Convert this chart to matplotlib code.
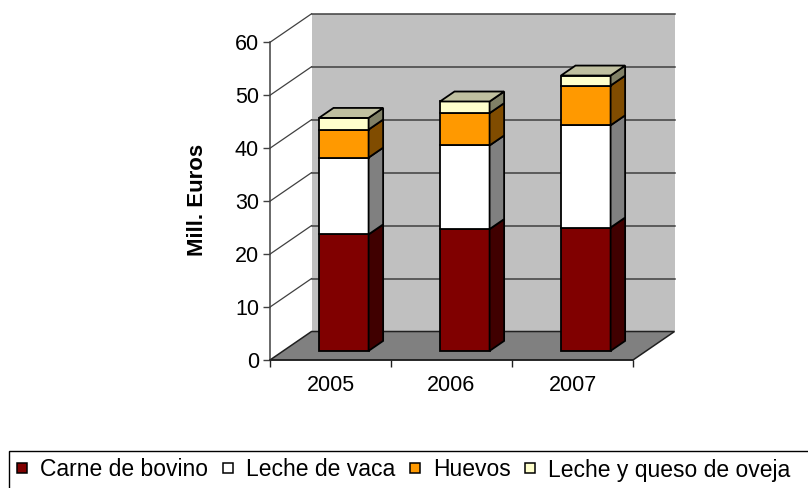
import matplotlib.pyplot as plt
from matplotlib.patches import Polygon, Rectangle
from matplotlib.lines import Line2D
plt.rcParams.update({'font.family': ['Liberation Sans', 'DejaVu Sans']})

# values (Mill. Euros)
years = ['2005', '2006', '2007']
carne_bovino = [22.0, 23.0, 23.3]
leche_vaca = [14.5, 15.8, 19.3]
huevos = [5.3, 6.1, 7.5]
leche_oveja = [2.2, 2.2, 1.9]
series_names = ['Carne de bovino', 'Leche de vaca', 'Huevos', 'Leche y queso de oveja']
yticks = [0, 10, 20, 30, 40, 50, 60]

front_cols = ['#800000', '#FFFFFF', '#FF9900', '#FFFFCC']
side_cols = ['#400000', '#808080', '#804C00', '#808066']
top_col = '#C0C0A0'

# oblique 3d look: depth offset of the back wall in data units
DX, DY = 0.343, 5.38
d0, d1 = 0.32, 0.67   # bar front / back depth as fraction of the floor depth
bw = 0.41
ymax = 60
ncat = len(years)

fig = plt.figure(figsize=(8.08, 4.88), dpi=100)
ax = fig.add_axes([0, 0, 1, 1])
ax.set_xlim(-270 / 121, 538 / 121)
ax.set_ylim(-128 / 5.295, 360 / 5.295)
ax.patch.set_visible(False)

# back wall, side wall grid and floor
ax.add_patch(Rectangle((DX, DY), ncat, ymax, facecolor='#C0C0C0', edgecolor='none', zorder=0))
for v in yticks[1:]:
    ax.plot([DX, ncat + DX], [v + DY, v + DY], color='#404040', lw=1.1, zorder=1)
    ax.plot([0, DX], [v, v + DY], color='#404040', lw=0.9, zorder=1)
ax.add_patch(Polygon([(0, 0), (ncat, 0), (ncat + DX, DY), (DX, DY)], closed=True,
                     facecolor='#808080', edgecolor='#202020', lw=1.1, zorder=2))

# stacked columns
stacks = [carne_bovino, leche_vaca, huevos, leche_oveja]
dx, dy = (d1 - d0) * DX, (d1 - d0) * DY
for i in range(ncat):
    x0 = i + 0.5 - bw / 2 + d0 * DX
    base = d0 * DY
    for k, s in enumerate(stacks):
        h = s[i]
        ax.add_patch(Rectangle((x0, base), bw, h, facecolor=front_cols[k],
                               edgecolor='black', lw=1.3, zorder=5))
        ax.add_patch(Polygon([(x0 + bw, base), (x0 + bw + dx, base + dy),
                              (x0 + bw + dx, base + h + dy), (x0 + bw, base + h)],
                             closed=True, facecolor=side_cols[k], edgecolor='black',
                             lw=1.3, zorder=5))
        base += h
    ax.add_patch(Polygon([(x0, base), (x0 + bw, base), (x0 + bw + dx, base + dy),
                          (x0 + dx, base + dy)], closed=True, facecolor=top_col,
                         edgecolor='black', lw=1.3, zorder=5))

# axes
for sp in ['top', 'right']:
    ax.spines[sp].set_visible(False)
ax.spines['left'].set_position(('data', 0))
ax.spines['bottom'].set_position(('data', 0))
ax.spines['left'].set_bounds(0, ymax)
ax.spines['bottom'].set_bounds(0, ncat)
ax.spines['left'].set_color('#404040')
ax.spines['bottom'].set_color('#202020')
ax.spines['left'].set_linewidth(1.1)
ax.spines['bottom'].set_linewidth(1.1)
ax.spines['left'].set_zorder(3)
ax.spines['bottom'].set_zorder(3)

ax.set_yticks(yticks)
ax.tick_params(axis='y', length=5, width=1, color='#404040', pad=3, labelsize=15.5)
ax.set_xticks(range(ncat + 1))
ax.set_xticklabels([])
ax.set_xticks([i + 0.5 for i in range(ncat)], minor=True)
ax.set_xticklabels(years, minor=True)
ax.tick_params(axis='x', which='major', length=5, width=1, color='#202020')
ax.tick_params(axis='x', which='minor', length=0, pad=10.5, labelsize=15.5)

ax.set_ylabel('Mill. Euros', fontsize=16, fontweight='bold')
ax.yaxis.set_label_coords(-0.6, 30.2, transform=ax.transData)
ax.yaxis.label.set(va='center', rotation_mode='default')

# legend
fig.patches.append(Rectangle((9 / 808, -0.1), 1.2, 0.1 + 37 / 488, transform=fig.transFigure,
                             facecolor='white', edgecolor='black', lw=1.0))
handles = [Line2D([], [], ls='none', marker='s', markersize=7.5, markerfacecolor=c,
                  markeredgecolor='black', markeredgewidth=1.1) for c in front_cols]
fig.legend(handles, series_names, loc='center left', bbox_to_anchor=(16 / 808, 18 / 488),
           ncol=4, frameon=False, fontsize=16.5, handlelength=0.5, handletextpad=0.55,
           columnspacing=0.6, borderpad=0, borderaxespad=0)

plt.savefig('out.png', dpi=100)
plt.close()
